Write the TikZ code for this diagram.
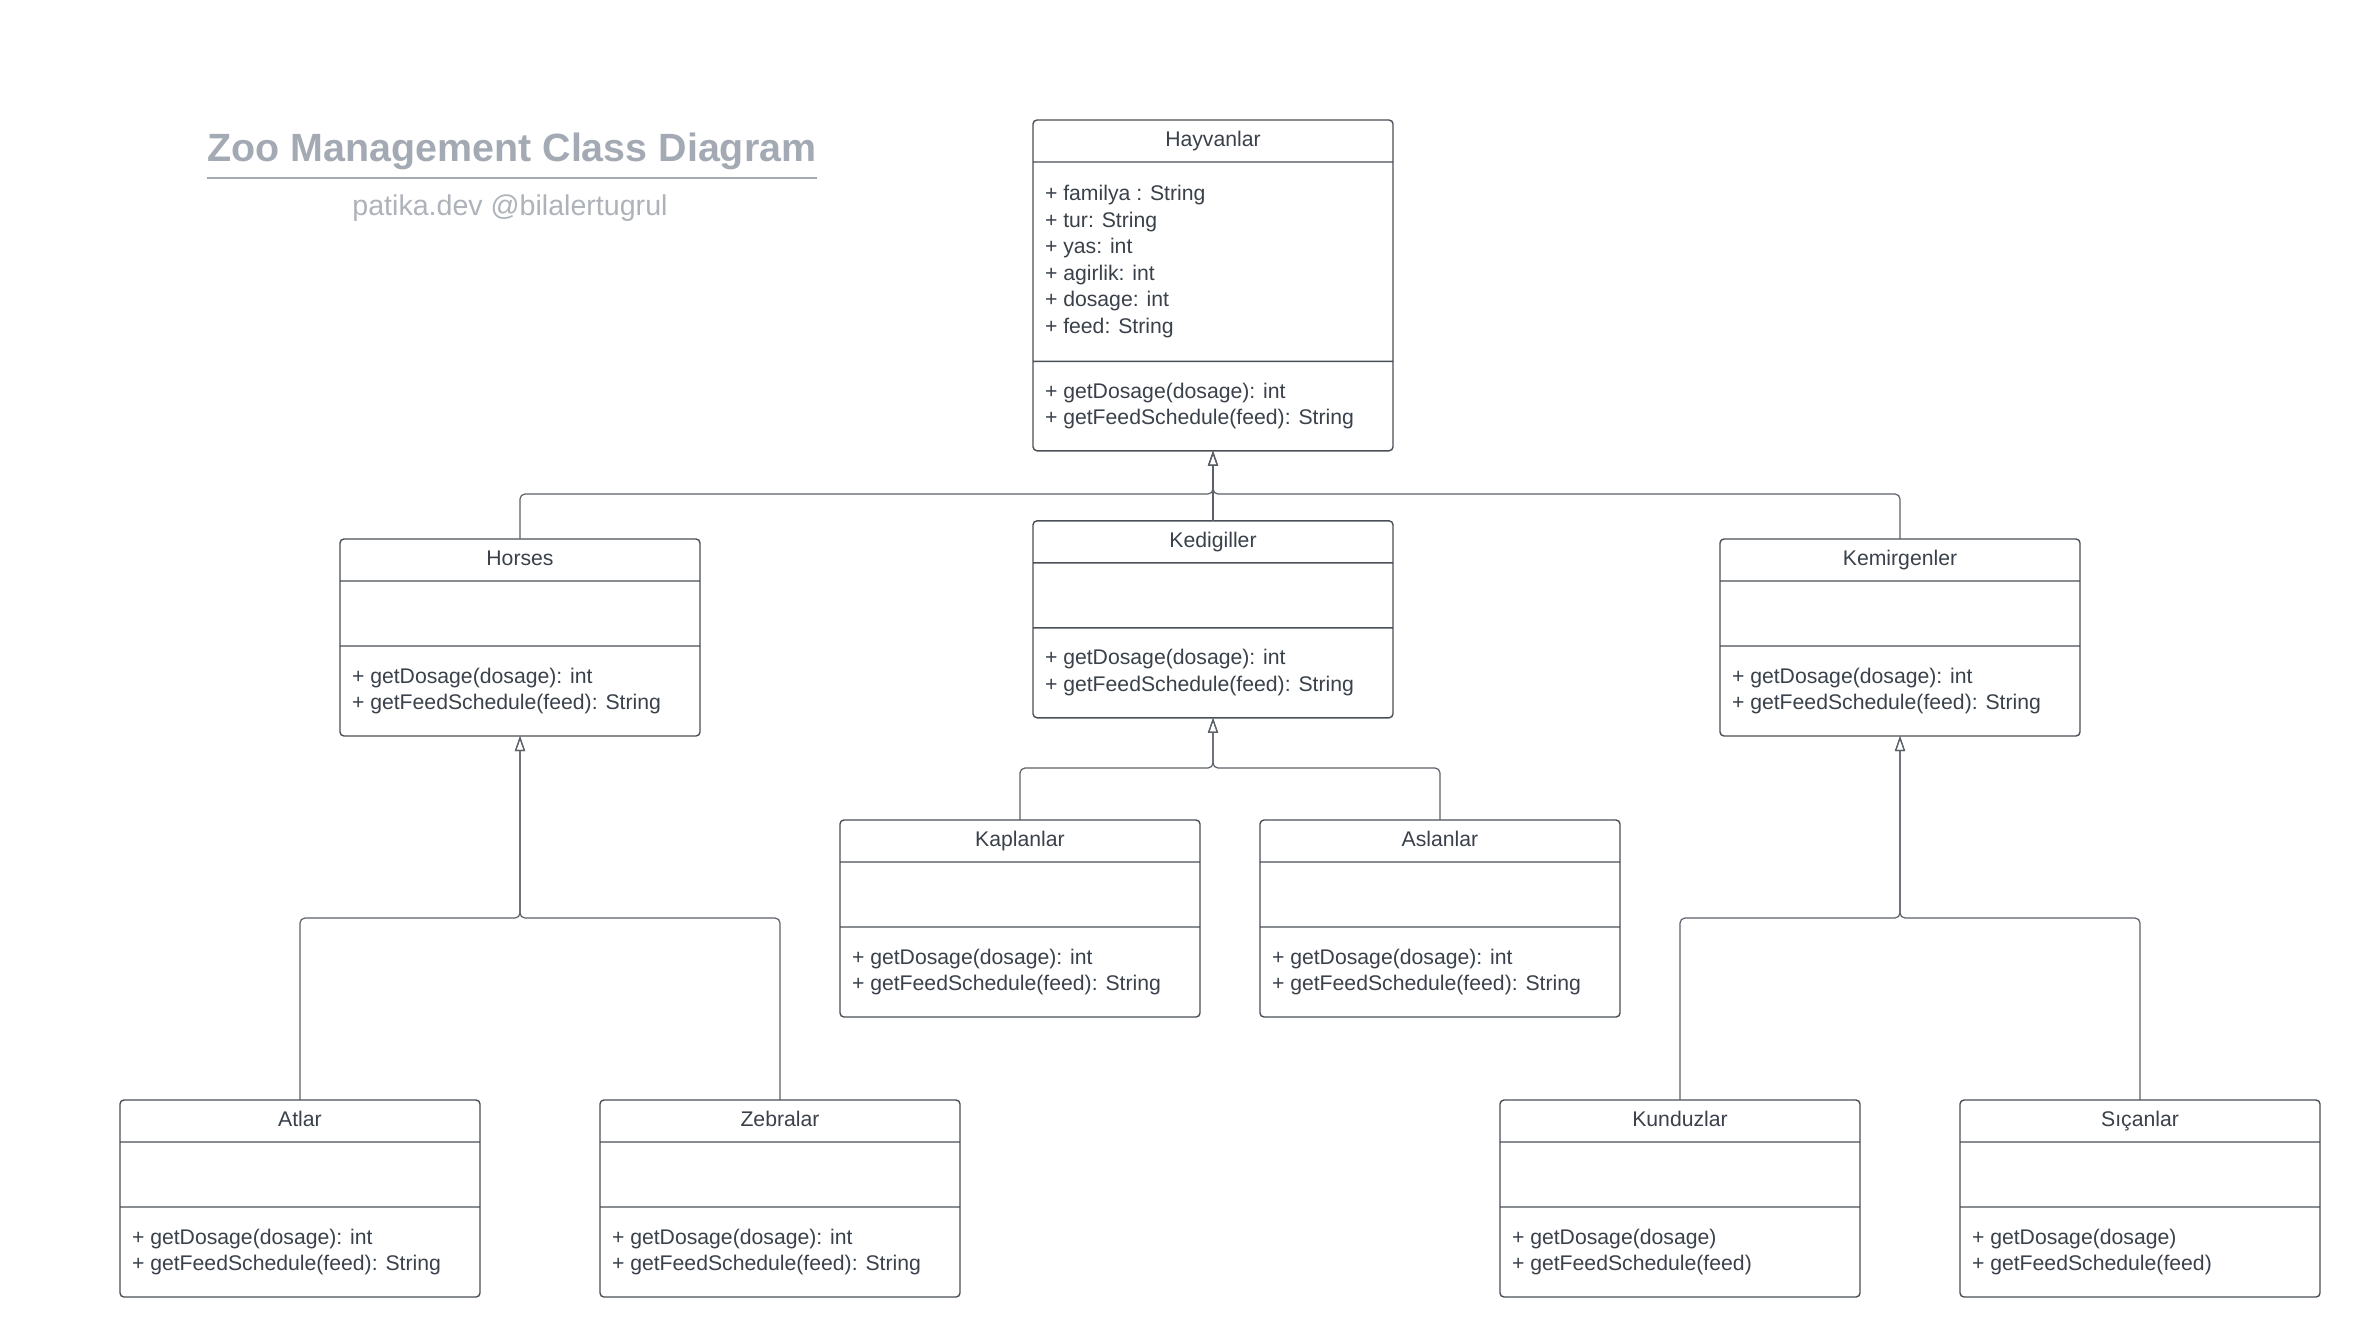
\documentclass[tikz,border=0pt]{standalone}
\usepackage{fontspec}
\setmainfont{Liberation Sans}
\usepackage{tikz}
\usetikzlibrary{arrows.meta,positioning,shapes.multipart}

\definecolor{textc}{HTML}{3A414A}
\definecolor{boxline}{HTML}{4A4F57}
\definecolor{linkc}{HTML}{5C6168}
\definecolor{titlec}{HTML}{A4AAB3}
\definecolor{subc}{HTML}{AEB3BA}

\newcommand{\classfont}{\fontsize{10.6pt}{13.3pt}\selectfont}
\newcommand{\classhead}[1]{\parbox[c][20.3pt][c]{168pt}{\centering\strut #1\strut}}
\newcommand{\classbody}[2]{\parbox[c][#1][c]{168pt}{\strut #2\strut}}

\begin{document}
\begin{tikzpicture}[x=0.5pt, y=-0.5pt, >={Triangle[open,length=7.5pt,width=5pt]},
    umlclass/.style={draw=boxline, line width=0.7pt, rounded corners=2pt, rectangle split,
        rectangle split parts=3, inner xsep=6pt, inner ysep=0pt, outer sep=0pt,
        font=\classfont, text=textc, anchor=north},
    link/.style={draw=linkc, line width=0.6pt, rounded corners=2.5pt},
    titletext/.style={inner sep=0pt, text=titlec, font=\fontsize{19.7pt}{23pt}\selectfont\bfseries},
    subtext/.style={inner sep=0pt, text=subc, font=\fontsize{14.3pt}{17pt}\selectfont}]

    \path [use as bounding box, fill=white] (0,0) rectangle (2360,1338);

    % Title
    \node [titletext] (title) at (512,151) {Zoo Management Class Diagram};
    \draw [titlec, line width=1.2pt] ([yshift=-4pt]title.south west) -- ([yshift=-4pt]title.south east);
    \node [subtext] (subtitle) at (510,208) {patika.dev @bilalertugrul};

    % Classes {hayvanlar, horses, kedigiller, kemirgenler, etc}
    \node [umlclass] (hayvanlar) at (1213,120) {\classhead{Hayvanlar}%
        \nodepart{two}\classbody{99pt}{+ familya : String\\+ tur: String\\+ yas: int\\+ agirlik: int\\+ dosage: int\\+ feed: String}%
        \nodepart{three}\classbody{44pt}{+ getDosage(dosage): int\\+ getFeedSchedule(feed): String}};

    \node [umlclass] (horses) at (520,539) {\classhead{Horses}%
        \nodepart{two}\classbody{31.8pt}{}%
        \nodepart{three}\classbody{44.3pt}{+ getDosage(dosage): int\\+ getFeedSchedule(feed): String}};
    \node [umlclass] (kedigiller) [below=35pt of hayvanlar] {\classhead{Kedigiller}%
        \nodepart{two}\classbody{31.8pt}{}%
        \nodepart{three}\classbody{44.3pt}{+ getDosage(dosage): int\\+ getFeedSchedule(feed): String}};
    \node [umlclass] (kemirgenler) at (1900,539) {\classhead{Kemirgenler}%
        \nodepart{two}\classbody{31.8pt}{}%
        \nodepart{three}\classbody{44.3pt}{+ getDosage(dosage): int\\+ getFeedSchedule(feed): String}};

    \node [umlclass] (kaplanlar) at (1020,820) {\classhead{Kaplanlar}%
        \nodepart{two}\classbody{31.8pt}{}%
        \nodepart{three}\classbody{44.3pt}{+ getDosage(dosage): int\\+ getFeedSchedule(feed): String}};
    \node [umlclass] (aslanlar) [right=30pt of kaplanlar] {\classhead{Aslanlar}%
        \nodepart{two}\classbody{31.8pt}{}%
        \nodepart{three}\classbody{44.3pt}{+ getDosage(dosage): int\\+ getFeedSchedule(feed): String}};

    \node [umlclass] (atlar) at (300,1100) {\classhead{Atlar}%
        \nodepart{two}\classbody{31.8pt}{}%
        \nodepart{three}\classbody{44.3pt}{+ getDosage(dosage): int\\+ getFeedSchedule(feed): String}};
    \node [umlclass] (zebralar) [right=60pt of atlar] {\classhead{Zebralar}%
        \nodepart{two}\classbody{31.8pt}{}%
        \nodepart{three}\classbody{44.3pt}{+ getDosage(dosage): int\\+ getFeedSchedule(feed): String}};
    \node [umlclass] (kunduzlar) at (1680,1100) {\classhead{Kunduzlar}%
        \nodepart{two}\classbody{31.8pt}{}%
        \nodepart{three}\classbody{44.3pt}{+ getDosage(dosage)\\+ getFeedSchedule(feed)}};
    \node [umlclass] (sicanlar) [right=50pt of kunduzlar] {\classhead{Sıçanlar}%
        \nodepart{two}\classbody{31.8pt}{}%
        \nodepart{three}\classbody{44.3pt}{+ getDosage(dosage)\\+ getFeedSchedule(feed)}};

    % Bus points
    \coordinate (bushayvanlar)   at (1213,494);
    \coordinate (buskedigiller)  at (1213,768);
    \coordinate (bushorses)      at (520,918);
    \coordinate (buskemirgenler) at (1900,918);

    % Paths
    \draw [->, link] (horses.north)      |- (bushayvanlar) -- (hayvanlar.south);
    \draw [->, link] (kemirgenler.north) |- (bushayvanlar) -- (hayvanlar.south);
    \draw [->, link] (kedigiller.north)  -- (hayvanlar.south);

    \draw [->, link] (kaplanlar.north)   |- (buskedigiller) -- (kedigiller.south);
    \draw [->, link] (aslanlar.north)    |- (buskedigiller) -- (kedigiller.south);

    \draw [->, link] (atlar.north)       |- (bushorses) -- (horses.south);
    \draw [->, link] (zebralar.north)    |- (bushorses) -- (horses.south);

    \draw [->, link] (kunduzlar.north)   |- (buskemirgenler) -- (kemirgenler.south);
    \draw [->, link] (sicanlar.north)    |- (buskemirgenler) -- (kemirgenler.south);

\end{tikzpicture}
\end{document}
